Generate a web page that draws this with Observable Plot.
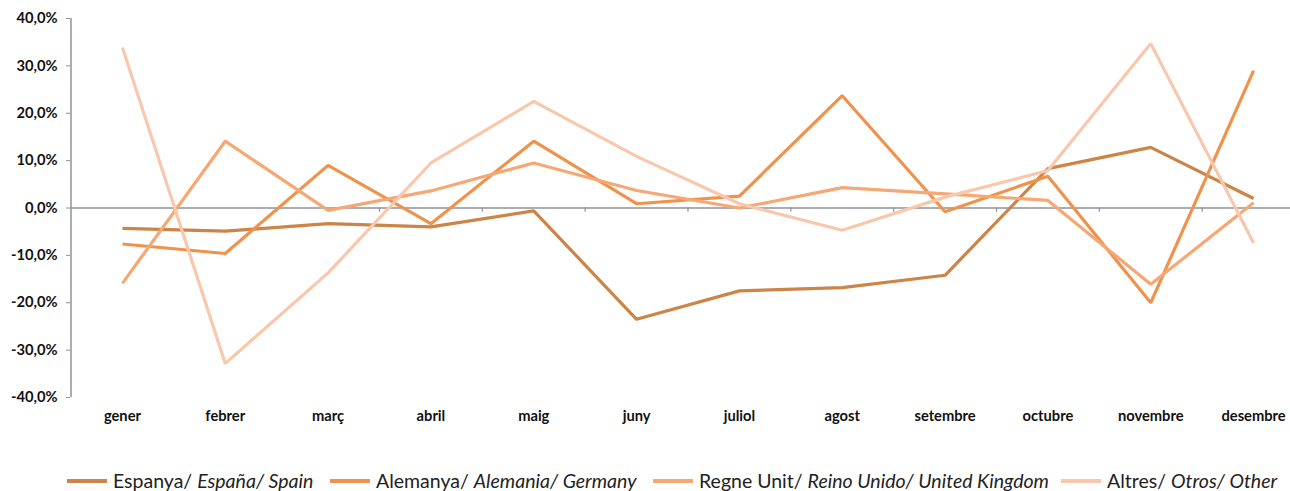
<!DOCTYPE html>
<html>
<head>
<meta charset="utf-8">
<script src="https://cdn.jsdelivr.net/npm/d3@7"></script>
<script src="https://cdn.jsdelivr.net/npm/@observablehq/plot@0.6"></script>
<style>
  html, body { margin: 0; padding: 0; background: #fff; overflow: hidden; }
  #wrap { position: relative; width: 1290px; height: 491px; }
  #chart { position: absolute; left: 0; top: 0; }
  #legend { position: absolute; left: 0; top: 469px; width: 1290px; height: 30px;
            font-family: Lato, "Open Sans", sans-serif; font-size: 19.5px; color: #222; }
  .item { position: absolute; top: 0; white-space: nowrap; display: flex; align-items: center; }
  .sw { display: inline-block; width: 40px; height: 4px; margin-right: 6px; }
  .item i { font-style: italic; }
</style>
</head>
<body>
<div id="wrap">
  <div id="chart"></div>
  <div id="legend"></div>
</div>
<script>
const months = ["gener","febrer","març","abril","maig","juny","juliol","agost","setembre","octubre","novembre","desembre"];
const spain   = [-4.3, -4.9, -3.3, -4.0, -0.6, -23.5, -17.5, -16.8, -14.2, 8.3, 12.8, 2.0];
const germany = [-7.6, -9.6, 9.0, -3.3, 14.1, 0.9, 2.5, 23.7, -0.8, 6.7, -20.0, 29.0];
const uk      = [-15.9, 14.1, -0.5, 3.6, 9.5, 3.7, 0.0, 4.3, 3.0, 1.6, -16.1, 1.1];
const other   = [33.9, -32.8, -13.7, 9.5, 22.5, 10.9, 0.9, -4.7, 2.3, 7.9, 34.7, -7.4];
const yTicks  = [-40, -30, -20, -10, 0, 10, 20, 30, 40];

const seriesNames = ["Espanya", "Alemanya", "Regne Unit", "Altres"];
const seriesValues = [spain, germany, uk, other];
const colors = ["#cc8447", "#ef934c", "#f6a874", "#f9c8ac"];
const legendParts = [
  ["Espanya/ ", "España/ Spain"],
  ["Alemanya/ ", "Alemania/ Germany"],
  ["Regne Unit/ ", "Reino Unido/ United Kingdom"],
  ["Altres/ ", "Otros/ Other"]
];

const rows = [];
seriesNames.forEach((s, k) => seriesValues[k].forEach((v, i) => rows.push({series: s, i, v})));
const boundaries = months.map((m, i) => i + 0.5);
const fmt = d => d.toFixed(1).replace(".", ",") + "%";

const plot = Plot.plot({
  width: 1290,
  height: 445,
  marginLeft: 70,
  marginRight: 0,
  marginTop: 18,
  marginBottom: 48,
  style: {fontFamily: "Lato, 'Open Sans', sans-serif", background: "#fff", overflow: "visible"},
  x: {type: "linear", domain: [-0.5, 11.5], range: [70.5, 1304.5]},
  y: {domain: [-40, 40]},
  color: {domain: seriesNames, range: colors},
  marks: [
    Plot.ruleY([0], {stroke: "#8e9297", strokeWidth: 1.5, x1: -0.5, x2: 11.5}),
    Plot.ruleX(boundaries, {y1: 0, y2: -0.9, stroke: "#8e9297", strokeWidth: 1.2}),
    Plot.ruleX([-0.5], {y1: -40, y2: 40, stroke: "#8e9297", strokeWidth: 1.5}),
    Plot.axisY({ticks: yTicks, tickFormat: fmt, tickSize: 4, tickPadding: 9, stroke: "#8e9297",
                fontSize: 14.7, fontWeight: "bold", color: "#111", label: null}),
    Plot.axisX({ticks: d3.range(months.length), tickFormat: i => months[i], tickSize: 0, tickPadding: 13,
                fontSize: 14.7, fontWeight: "bold", color: "#111", label: null}),
    Plot.line(rows, {x: "i", y: "v", z: "series", stroke: "series", strokeWidth: 3.2,
                     strokeLinejoin: "miter", strokeLinecap: "butt"})
  ]
});
document.getElementById("chart").appendChild(plot);

const lefts = [67, 330, 653, 1061];
const legend = document.getElementById("legend");
legendParts.forEach((p, k) => {
  const it = document.createElement("div");
  it.className = "item";
  it.style.left = lefts[k] + "px";
  it.innerHTML = `<span class="sw" style="background:${colors[k]}"></span><span>${p[0]}<i>${p[1]}</i></span>`;
  legend.appendChild(it);
});
</script>
</body>
</html>
